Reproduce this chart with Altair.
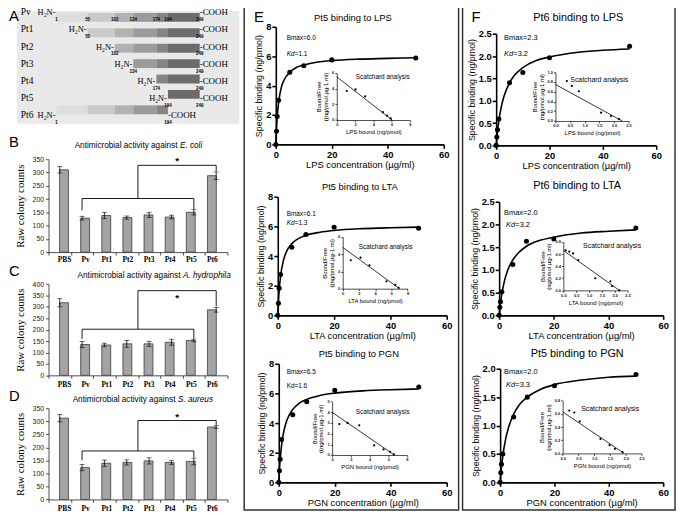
import altair as alt
import pandas as pd

W, H = 677, 507
M = 8  # body margin of the page


def P(v):
    return v - M


SANS = "Liberation Sans"
SERIF = "Liberation Serif"

# ---------------- Panel A : fragments ----------------
a_rows = ["Pv", "Pt1", "Pt2", "Pt3", "Pt4", "Pt5", "Pt6"]
a_start = [1, 55, 102, 134, 174, 194, 1]
a_end = [249, 249, 249, 249, 249, 249, 194]
a_bounds = [1, 55, 102, 134, 174, 194, 249]
a_shades = ["#dddddd", "#c9c9c9", "#b2b2b2", "#9b9b9b", "#848484", "#6c6c6c"]

# ---------------- Panels B-D : colony counts ----------------
bar_cats = ["PBS", "Pv", "Pt1", "Pt2", "Pt3", "Pt4", "Pt5", "Pt6"]
ecoli_val = [310, 128, 138, 130, 140, 132, 150, 288]
ecoli_err = [12, 7, 12, 6, 10, 7, 10, 14]
ecoli_br_low = [158, 202, 202, 162]
ecoli_br_high = [202, 327, 327, 305]
ecoli_star = 350

hydro_val = [318, 135, 133, 138, 138, 145, 153, 287]
hydro_err = [18, 13, 8, 15, 11, 13, 6, 10]
hydro_br_low = [160, 202, 202, 162]
hydro_br_high = [202, 371, 371, 302]
hydro_star = 350

aureus_val = [312, 122, 139, 142, 148, 142, 146, 278]
aureus_err = [14, 12, 12, 10, 12, 7, 13, 5]
aureus_br_low = [150, 186, 186, 162]
aureus_br_high = [186, 303, 303, 286]
aureus_star = 325

br_low_x = [1, 1, 6, 6]
br_high_x = [3.5, 3.5, 7, 7]
star_x = 5.25

# ---------------- Panels E-F : binding ----------------
conc = [0, 0.25, 0.5, 1, 5, 10, 20, 50]
fit_conc = [0, 0.25, 0.5, 1, 2, 3, 5, 7, 10, 15, 20, 30, 40, 50]

e1_pts = [0, 0.9, 1.9, 3.0, 4.9, 5.35, 5.75, 5.88]
e1_fit = [0, 1.1, 1.85, 2.85, 3.9, 4.4, 4.9, 5.2, 5.4, 5.6, 5.7, 5.8, 5.85, 5.9]
e1_sc_x = [1.1, 2.05, 3.1, 5.05, 5.5, 5.9]
e1_sc_y = [3.7, 3.9, 3.0, 1.0, 0.55, 0.2]
e1_line_x = [0, 6.05]
e1_line_y = [5.5, 0]

e2_pts = [0, 0.82, 1.83, 2.76, 4.6, 5.46, 5.95, 5.88]
e2_fit = [0, 0.98, 1.69, 2.65, 3.7, 4.26, 4.84, 5.14, 5.4, 5.61, 5.73, 5.85, 5.91, 5.95]
e2_sc_x = [1.0, 2.2, 3.3, 5.4, 6.5, 6.9]
e2_sc_y = [3.3, 3.6, 2.7, 0.85, 0.45, 0.1]
e2_line_x = [0, 7.0]
e2_line_y = [4.8, 0]

e3_pts = [0, 0.78, 1.56, 2.89, 4.56, 5.44, 6.22, 6.44]
e3_fit = [0, 0.88, 1.55, 2.5, 3.61, 4.24, 4.92, 5.29, 5.6, 5.87, 6.02, 6.17, 6.25, 6.3]
e3_sc_x = [0.77, 1.65, 2.9, 4.5, 5.5, 6.2, 6.6]
e3_sc_y = [2.9, 3.0, 2.78, 0.9, 0.52, 0.3, 0.05]
e3_line_x = [0, 6.65]
e3_line_y = [4.0, 0]

f1_pts = [0, 0.19, 0.35, 0.59, 1.4, 1.63, 1.96, 2.22]
f1_fit = [0, 0.167, 0.31, 0.548, 0.885, 1.11, 1.4, 1.58, 1.74, 1.9, 1.98, 2.08, 2.13, 2.16]
f1_sc_x = [0.39, 0.56, 0.8, 1.56, 1.9, 2.17]
f1_sc_y = [0.82, 0.72, 0.61, 0.17, 0.1, 0.04]
f1_line_x = [0, 2.28]
f1_line_y = [0.75, 0]

f2_pts = [0, 0.18, 0.3, 0.52, 1.12, 1.63, 1.68, 1.92]
f2_fit = [0, 0.145, 0.27, 0.476, 0.77, 0.97, 1.22, 1.37, 1.52, 1.65, 1.72, 1.81, 1.85, 1.88]
f2_sc_x = [0.09, 0.23, 0.38, 0.58, 1.24, 1.83, 1.9, 2.18]
f2_sc_y = [0.66, 0.64, 0.61, 0.5, 0.2, 0.15, 0.07, 0.0]
f2_line_x = [0, 2.18]
f2_line_y = [0.66, 0]

f3_pts = [0, 0.17, 0.32, 0.5, 1.15, 1.5, 1.7, 1.9]
f3_fit = [0, 0.14, 0.26, 0.465, 0.755, 0.95, 1.2, 1.36, 1.5, 1.64, 1.72, 1.8, 1.85, 1.87]
f3_sc_x = [0.21, 0.37, 0.54, 1.2, 1.49, 1.66, 1.9]
f3_sc_y = [0.65, 0.62, 0.485, 0.22, 0.125, 0.07, 0.02]
f3_line_x = [0, 1.95]
f3_line_y = [0.63, 0]

one = pd.DataFrame({"k": [0]})


def txt(s, x, y, size=9, font=SANS, weight="normal", style="normal",
        align="left", baseline="middle", angle=None, color="black"):
    kw = dict(text=s, font=font, fontSize=size, fontWeight=weight, fontStyle=style,
              align=align, baseline=baseline, color=color)
    if angle is not None:
        kw["angle"] = angle
    return alt.Chart(one).mark_text(**kw).encode(x=alt.value(P(x)), y=alt.value(P(y)))


def sc(dom, r0, r1):
    return alt.Scale(domain=dom, range=[P(r0), P(r1)], nice=False, zero=False)


layers = []

# ---------------- Panel A ----------------
layers.append(alt.Chart(one).mark_rect(color="#e9e9e9").encode(
    x=alt.value(P(17)), x2=alt.value(P(242)), y=alt.value(0), y2=alt.value(P(122))))
AX = sc([1, 249], 57, 202)
AY = sc([0, 6], 9.5, 113)
segs = []
nums = []
for r, (s, e) in enumerate(zip(a_start, a_end)):
    for k in range(6):
        lo, hi = a_bounds[k], a_bounds[k + 1]
        if lo >= s and hi <= e:
            segs.append({"row": r, "x0": lo, "x1": hi, "shade": k})
    if r == 0:
        for b in a_bounds:
            nums.append({"row": r, "pos": b})
    else:
        nums.append({"row": r, "pos": s})
        nums.append({"row": r, "pos": e})
seg_df = pd.DataFrame(segs)
num_df = pd.DataFrame(nums)
row_df = pd.DataFrame({"row": list(range(7)), "name": a_rows, "s": a_start, "e": a_end})

layers.append(alt.Chart(seg_df).mark_bar(height=9, orient="horizontal").encode(
    x=alt.X("x0:Q", scale=AX, axis=None), x2="x1:Q",
    y=alt.Y("row:Q", scale=AY, axis=None),
    color=alt.Color("shade:O", scale=alt.Scale(domain=list(range(6)), range=a_shades), legend=None)))
layers.append(alt.Chart(row_df).mark_text(align="left", baseline="middle", font=SERIF, fontSize=9.5).encode(
    x=alt.value(P(21)), y=alt.Y("row:Q", scale=AY, axis=None), text="name:N"))
layers.append(alt.Chart(row_df).mark_text(align="right", baseline="middle", font=SERIF, fontSize=8.5, dx=-1, text="H\u2082N-").encode(
    x=alt.X("s:Q", scale=AX, axis=None), y=alt.Y("row:Q", scale=AY, axis=None)))
layers.append(alt.Chart(row_df).mark_text(align="left", baseline="middle", font=SERIF, fontSize=9, dx=0, text="-COOH").encode(
    x=alt.X("e:Q", scale=AX, axis=None), y=alt.Y("row:Q", scale=AY, axis=None)))
layers.append(alt.Chart(num_df).mark_text(align="center", baseline="middle", font=SANS, fontSize=4.5, fontWeight="bold", dy=8).encode(
    x=alt.X("pos:Q", scale=AX, axis=None), y=alt.Y("row:Q", scale=AY, axis=None), text="pos:Q"))


# ---------------- Panels B-D ----------------
def bar_panel(vals, errs, br_low, br_high, star_y, ymax, y_zero, y_top, lab_gap,
              t_plain, t_ital, t_y, split_x, star_dy):
    X = sc([-0.5, 7.5], 49, 230)
    Y = alt.Scale(domain=[0, ymax], range=[P(y_zero), P(y_top)], nice=False, zero=True)
    df = pd.DataFrame({"i": list(range(8)), "v": vals, "e": errs})
    expr = "[" + ",".join("'%s'" % c for c in bar_cats) + "][datum.value]"
    ax_x = alt.Axis(orient="bottom", offset=P(y_zero) - H, values=list(range(8)), labelExpr=expr,
                    ticks=False, title=None, labelFont=SERIF, labelFontSize=7.5, labelFontWeight="bold",
                    labelColor="black", labelPadding=lab_gap, domainColor="#222", domainWidth=0.8,
                    grid=False, labelFlush=False, labelOverlap=False)
    ax_y = alt.Axis(orient="left", offset=-P(49), values=list(range(0, ymax + 1, 50)), tickSize=3,
                    tickColor="#222", tickWidth=0.8, domainColor="#222", domainWidth=0.8,
                    labelFont=SANS, labelFontSize=7, labelColor="#222", labelPadding=2,
                    title="Raw colony counts", titleFont=SERIF, titleFontSize=11,
                    titleFontWeight="normal", titleColor="black", titlePadding=7,
                    grid=False, labelFlush=False, labelOverlap=False)
    out = []
    out.append(alt.Chart(df).mark_bar(width=9, orient="vertical", color="#a4a4a4", stroke="#3a3a3a",
                                      strokeWidth=0.8).encode(
        x=alt.X("i:Q", scale=X, axis=ax_x), y=alt.Y("v:Q", scale=Y, axis=ax_y), y2=alt.datum(0)))
    out.append(alt.Chart(df).mark_point(opacity=0).encode(
        x=alt.X("i:Q", scale=X, axis=alt.Axis(orient="bottom", offset=P(y_zero) - H,
                                              values=[k - 0.5 for k in range(9)], labels=False,
                                              domain=False, tickSize=3, tickColor="#222",
                                              tickWidth=0.8, title=None, grid=False)),
        y=alt.Y("v:Q", scale=Y, axis=None)))
    eb = alt.Chart(df).transform_calculate(lo="datum.v - datum.e", hi="datum.v + datum.e")
    out.append(eb.mark_rule(color="black", strokeWidth=0.8).encode(
        x=alt.X("i:Q", scale=X, axis=None), y=alt.Y("lo:Q", scale=Y, axis=None), y2="hi:Q"))
    out.append(eb.transform_fold(["lo", "hi"], as_=["end", "val"]).mark_tick(
        orient="horizontal", size=5, thickness=0.8, color="black").encode(
        x=alt.X("i:Q", scale=X, axis=None), y=alt.Y("val:Q", scale=Y, axis=None)))
    br = pd.DataFrame({"x": br_low_x + br_high_x, "y": br_low + br_high,
                       "g": [0] * 4 + [1] * 4, "o": list(range(8))})
    out.append(alt.Chart(br).mark_line(color="black", strokeWidth=0.9).encode(
        x=alt.X("x:Q", scale=X, axis=None), y=alt.Y("y:Q", scale=Y, axis=None),
        detail="g:N", order="o:Q"))
    out.append(alt.Chart(pd.DataFrame({"x": [star_x], "y": [star_y]})).mark_text(
        text="*", font=SANS, fontSize=10, fontWeight="bold", baseline="middle", dy=star_dy).encode(
        x=alt.X("x:Q", scale=X, axis=None), y=alt.Y("y:Q", scale=Y, axis=None)))
    out.append(txt(t_plain, split_x - 2.5, t_y, size=8.3, align="right"))
    out.append(txt(t_ital, split_x, t_y, size=8.3, style="italic", align="left"))
    return out


layers += bar_panel(ecoli_val, ecoli_err, ecoli_br_low, ecoli_br_high, ecoli_star, 350, 252, 158, 3,
                    "Antimicrobial activity against", "E. coli", 145, 182, 2)
layers += bar_panel(hydro_val, hydro_err, hydro_br_low, hydro_br_high, hydro_star, 400, 376.7, 284.3, 5,
                    "Antimicrobial activity against", "A. hydrophila", 276, 185, 3)
layers += bar_panel(aureus_val, aureus_err, aureus_br_low, aureus_br_high, aureus_star, 350, 502.3, 410, 5,
                    "Antimicrobial activity against", "S. aureus", 402, 180, 2)

# ---------------- Panels E-F ----------------
MAIN_AX = dict(grid=False, domainColor="black", domainWidth=1.6, tickColor="black", tickWidth=1.6,
               tickSize=4, labelFont=SANS, labelFontSize=9.5, labelFontWeight="bold",
               labelColor="black", labelPadding=1, titleFont=SANS, titleFontWeight="normal",
               titleColor="black", labelFlush=False, labelOverlap=False)
INSET_AX = dict(grid=False, domainColor="black", domainWidth=0.7, tickColor="black", tickWidth=0.7,
                tickSize=2, labelFont=SANS, labelFontSize=4, labelFontWeight="bold",
                labelColor="#222", labelPadding=1, titleFont=SANS, titleFontSize=6,
                titleFontWeight="normal", titleColor="black", titleLineHeight=7,
                labelFlush=False, labelOverlap=False)


def bind_panel(c):
    X = sc([0, 60], c["x0"], c["x1"])
    Y = sc([0, c["ymax"]], c["y0"], c["y1"])
    ax_x = alt.Axis(orient="bottom", offset=P(c["y0"]) - H, values=[0, 20, 40, 60], format="d",
                    title=c["xlab"], titleFontSize=9.5, titlePadding=1, **MAIN_AX)
    ax_y = alt.Axis(orient="left", offset=-P(c["x0"]), values=c["yvals"], format=c["yfmt"],
                    title="Specific binding (ng/pmol)", titleFontSize=9, titlePadding=2, **MAIN_AX)
    fit = pd.DataFrame({"x": fit_conc, "y": c["fit"]})
    pts = pd.DataFrame({"x": conc, "y": c["pts"]})
    out = []
    out.append(alt.Chart(fit).mark_line(color="black", strokeWidth=1.6, interpolate="monotone").encode(
        x=alt.X("x:Q", scale=X, axis=ax_x), y=alt.Y("y:Q", scale=Y, axis=ax_y)))
    out.append(alt.Chart(pts).mark_circle(size=26, color="black", opacity=1).encode(
        x=alt.X("x:Q", scale=X, axis=None), y=alt.Y("y:Q", scale=Y, axis=None)))
    IX = sc([0, c["ixmax"]], c["ix0"], c["ix1"])
    IY = sc([0, c["iymax"]], c["iy0"], c["iy1"])
    iax_x = alt.Axis(orient="bottom", offset=P(c["iy0"]) - H, values=c["ixvals"], format=c["ifmt_x"],
                     title=c["ixlab"], titlePadding=2, **INSET_AX)
    iax_y = alt.Axis(orient="left", offset=-P(c["ix0"]), values=c["iyvals"], format=c["ifmt_y"],
                     title=["Bound/Free", c["iylab"]], titlePadding=3, **INSET_AX)
    line = pd.DataFrame({"x": c["lx"], "y": c["ly"]})
    sc_df = pd.DataFrame({"x": c["sx"], "y": c["sy"]})
    out.append(alt.Chart(line).mark_line(color="black", strokeWidth=0.8).encode(
        x=alt.X("x:Q", scale=IX, axis=iax_x), y=alt.Y("y:Q", scale=IY, axis=iax_y)))
    out.append(alt.Chart(sc_df).mark_circle(size=5, color="black", opacity=1).encode(
        x=alt.X("x:Q", scale=IX, axis=None), y=alt.Y("y:Q", scale=IY, axis=None)))
    tx, ty = c["title_pos"]
    out.append(txt(c["title"], tx, ty, size=c["tsize"], align="center"))
    bx, by = c["bmax_pos"]
    out.append(txt(c["bmax"], bx, by, size=c["bsize"]))
    kx, ky = c["kd_pos"]
    if c["kd_ital"]:
        out.append(txt("Kd", kx, ky, size=c["bsize"], style="italic"))
        out.append(txt("=" + c["kd"], kx + c["bsize"] * 1.25, ky, size=c["bsize"]))
    else:
        out.append(txt("Kd=" + c["kd"], kx, ky, size=c["bsize"]))
    sx_, sy_ = c["sc_pos"]
    out.append(txt("Scatchard analysis", sx_, sy_, size=c["ssize"]))
    return out


E_IN = dict(ixmax=8, ixvals=[0, 2, 4, 6, 8], ifmt_x="d", ifmt_y="d", iylab="((ng/pmol.\u00b5g-1.ml)",
            yvals=[0, 2, 4, 6, 8], yfmt="d", ymax=8, tsize=9.5, bsize=6.5, ssize=6.5)
F_IN = dict(ixmax=2.5, ixvals=[0, 0.5, 1, 1.5, 2, 2.5], ifmt_x=".1f", ifmt_y=".1f",
            iylab="(ng/pmol.\u00b5g-1.ml)", yfmt=".1f", tsize=11, bsize=7.5, ssize=7)

panels = [
    dict(E_IN, x0=279, x1=449, y0=143, y1=24, pts=e1_pts, fit=e1_fit, xlab="LPS concentration (\u00b5g/ml)",
         title="Pt5 binding to LPS", title_pos=(357, 15), bmax="Bmax=6.0", bmax_pos=(290, 35),
         kd="1.1", kd_pos=(290, 52), kd_ital=True,
         ix0=340.7, ix1=414.7, iy0=118.3, iy1=70.7, iymax=6, iyvals=[0, 2, 4, 6],
         ixlab="LPS bound (ng/pmol)", sx=e1_sc_x, sy=e1_sc_y, lx=e1_line_x, ly=e1_line_y, sc_pos=(360, 75)),
    dict(E_IN, x0=281, x1=452, y0=316, y1=196, pts=e2_pts, fit=e2_fit, xlab="LTA concentration (\u00b5g/ml)",
         title="Pt5 binding to LTA", title_pos=(364, 186), bmax="Bmax=6.1", bmax_pos=(290, 213),
         kd="1.3", kd_pos=(290, 223), kd_ital=True,
         ix0=346.7, ix1=412.3, iy0=289, iy1=236.7, iymax=6, iyvals=[0, 2, 4, 6],
         ixlab="LTA bound (ng/pmol)", sx=e2_sc_x, sy=e2_sc_y, lx=e2_line_x, ly=e2_line_y, sc_pos=(363, 247)),
    dict(E_IN, x0=282, x1=452, y0=485, y1=365, pts=e3_pts, fit=e3_fit, xlab="PGN concentration (\u00b5g/ml)",
         title="Pt5 binding to PGN", title_pos=(363, 355), bmax="Bmax=6.5", bmax_pos=(290, 373),
         kd="1.6", kd_pos=(290, 388), kd_ital=False,
         ix0=336, ix1=411.7, iy0=457.3, iy1=403.3, iymax=5, iyvals=[0, 1, 2, 3, 4, 5],
         ixlab="PGN bound (ng/pmol)", sx=e3_sc_x, sy=e3_sc_y, lx=e3_line_x, ly=e3_line_y, sc_pos=(360, 414)),
    dict(F_IN, x0=502, x1=664, y0=144, y1=31, ymax=2.5, yvals=[0, 0.5, 1, 1.5, 2, 2.5],
         pts=f1_pts, fit=f1_fit, xlab="LPS concentration (\u00b5g/ml)",
         title="Pt6 binding to LPS", title_pos=(585, 15), bmax="Bmax=2.3", bmax_pos=(510, 35),
         kd="3.2", kd_pos=(510, 52), kd_ital=True,
         ix0=562, ix1=636, iy0=119.3, iy1=70, iymax=1.0, iyvals=[0, 0.2, 0.4, 0.6, 0.8, 1.0],
         ixlab="LPS bound (ng/pmol)", sx=f1_sc_x, sy=f1_sc_y, lx=f1_line_x, ly=f1_line_y, sc_pos=(577, 78)),
    dict(F_IN, x0=505, x1=671, y0=316, y1=201, ymax=2.5, yvals=[0, 0.5, 1, 1.5, 2, 2.5],
         pts=f2_pts, fit=f2_fit, xlab="LTA concentration (\u00b5g/ml)",
         title="Pt6 binding to LTA", title_pos=(584, 185), bmax="Bmax=2.0", bmax_pos=(510, 212),
         kd="3.2", kd_pos=(512, 225), kd_ital=True,
         ix0=570, ix1=635, iy0=290.7, iy1=241.7, iymax=0.8, iyvals=[0, 0.2, 0.4, 0.6, 0.8],
         ixlab="LTA bound (ng/pmol)", sx=f2_sc_x, sy=f2_sc_y, lx=f2_line_x, ly=f2_line_y, sc_pos=(590, 246)),
    dict(F_IN, x0=506, x1=671, y0=485, y1=370, ymax=2.0, yvals=[0, 0.5, 1, 1.5, 2],
         pts=f3_pts, fit=f3_fit, xlab="PGN concentration (\u00b5g/ml)",
         title="Pt5 binding to PGN", title_pos=(584, 355), bmax="Bmax=2.0", bmax_pos=(510, 373),
         kd="3.3", kd_pos=(512, 386), kd_ital=True,
         ix0=569.3, ix1=649, iy0=455.7, iy1=402.3, iymax=0.8, iyvals=[0, 0.2, 0.4, 0.6, 0.8],
         ixlab="PGN bound (ng/pmol)", sx=f3_sc_x, sy=f3_sc_y, lx=f3_line_x, ly=f3_line_y, sc_pos=(588, 411)),
]
for c in panels:
    layers += bind_panel(c)

# frames of E and F
for (fx0, fx1) in [(247, 464), (468, 683)]:
    layers.append(alt.Chart(one).mark_rect(filled=False, stroke="#333333", strokeWidth=1.5).encode(
        x=alt.value(P(fx0)), x2=alt.value(P(fx1)), y=alt.value(P(1)), y2=alt.value(P(513))))

# panel letters
for s, x, y in [("A", 9, 13), ("B", 9, 141), ("C", 9, 271), ("D", 9, 398), ("E", 257, 14), ("F", 477, 14)]:
    layers.append(txt(s, x, y, size=15, align="left"))

chart = alt.layer(*layers).properties(
    width=W, height=H, padding=0, autosize=alt.AutoSizeParams(type="none")
).resolve_scale(x="independent", y="independent", color="independent").configure_view(stroke=None)

chart.save("out.html", embed_options={"renderer": "svg", "actions": False})
